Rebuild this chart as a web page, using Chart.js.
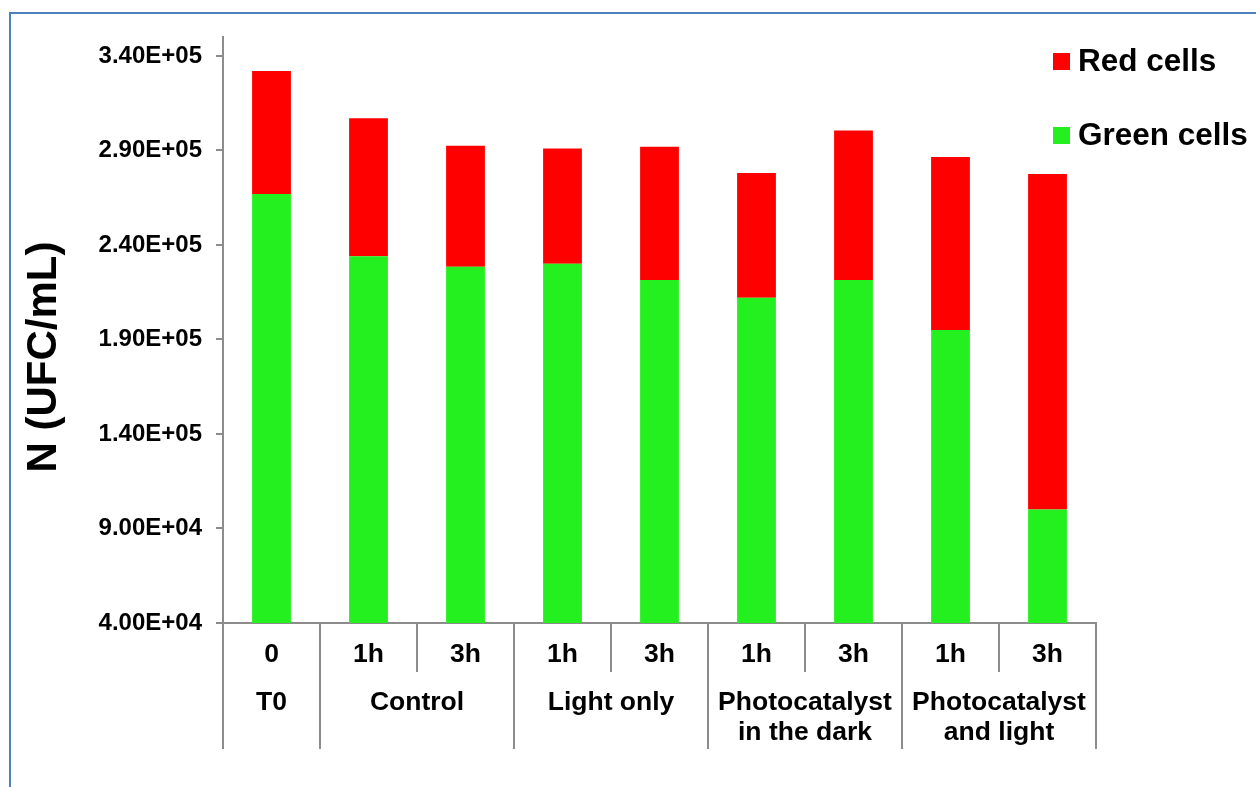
<!DOCTYPE html>
<html>
<head>
<meta charset="utf-8">
<script src="https://cdn.jsdelivr.net/npm/chart.js@4/dist/chart.umd.min.js"></script>
<style>
  html, body { margin: 0; padding: 0; background: #fff; overflow: hidden; }
  #frame { position: absolute; left: 9px; top: 12px; width: 1300px; height: 900px; border: 2px solid #4f81bd; }
  #wrap { position: absolute; left: 0; top: 0; width: 1256px; height: 787px; }
</style>
</head>
<body>
<div id="frame"></div>
<div id="wrap"><canvas id="chart" width="1256" height="787"></canvas></div>
<script>
const subLabels = ['0', '1h', '3h', '1h', '3h', '1h', '3h', '1h', '3h'];
const groupLabels = [['T0'], ['Control'], ['Light only'], ['Photocatalyst', 'in the dark'], ['Photocatalyst', 'and light']];
const groupSizes = [1, 2, 2, 2, 2];
const greenCells = [267000, 234000, 228500, 230000, 221500, 212000, 221500, 195000, 100000];
const redCells = [65000, 73000, 64000, 61000, 70500, 66000, 79000, 91500, 177500];
const yTickValues = [40000, 90000, 140000, 190000, 240000, 290000, 340000];
const yTitle = 'N (UFC/mL)';

const FONT = "'Liberation Sans', Arial, Helvetica, sans-serif";
const grey = '#8c8c8c';

Chart.defaults.color = '#000';
Chart.defaults.font.family = FONT;

function sci(v) {
    let [m, e] = v.toExponential(2).split('e');
    let sign = e[0] === '-' ? '-' : '+';
    let digits = e.replace(/[+-]/, '').padStart(2, '0');
    return m + 'E' + sign + digits;
}

// group row under the x axis, the y title and the legend
const extras = {
    id: 'extras',
    afterDraw(chart) {
        const c = chart.ctx;
        const x = chart.scales.x;
        const area = chart.chartArea;
        const half = (x.getPixelForValue(1) - x.getPixelForValue(0)) / 2;

        c.save();
        c.strokeStyle = grey;
        c.lineWidth = 2;
        c.fillStyle = '#000';
        c.font = 'bold 26.5px ' + FONT;
        c.textAlign = 'center';
        c.textBaseline = 'middle';

        let idx = 0;
        let edges = [x.getPixelForValue(0) - half];
        groupSizes.forEach((n, g) => {
            let left = x.getPixelForValue(idx) - half;
            let right = x.getPixelForValue(idx + n - 1) + half;
            groupLabels[g].forEach((line, i) => {
                c.fillText(line, (left + right) / 2, area.bottom + 80 + i * 30);
            });
            edges.push(right);
            idx += n;
        });
        edges.forEach(px => {
            c.beginPath();
            c.moveTo(px, area.bottom);
            c.lineTo(px, area.bottom + 126);
            c.stroke();
        });

        // y axis title
        c.save();
        c.translate(44, (area.top + area.bottom) / 2 + 27);
        c.rotate(-Math.PI / 2);
        c.font = 'bold 42px ' + FONT;
        c.fillText(yTitle, 0, 0);
        c.restore();

        // legend, top item first
        c.textAlign = 'left';
        c.font = 'bold 31.5px ' + FONT;
        let items = chart.data.datasets.slice().reverse();
        items.forEach((ds, i) => {
            let y = 62 + i * 74;
            c.fillStyle = ds.backgroundColor;
            c.fillRect(1053, y - 9, 17, 17);
            c.fillStyle = '#000';
            c.fillText(ds.label, 1078, y);
        });
        c.restore();
    }
};

new Chart(document.getElementById('chart'), {
    type: 'bar',
    data: {
        labels: subLabels,
        datasets: [
            { label: 'Green cells', data: greenCells, backgroundColor: '#25f01f' },
            { label: 'Red cells', data: redCells, backgroundColor: '#ff0000' }
        ]
    },
    options: {
        responsive: false,
        animation: false,
        events: [],
        layout: { padding: { top: 37, right: 160, left: 15, bottom: 0 } },
        datasets: { bar: { barPercentage: 0.4, categoryPercentage: 1, borderWidth: 0 } },
        plugins: { legend: { display: false }, tooltip: { enabled: false } },
        scales: {
            x: {
                stacked: true,
                grid: { offset: true, drawOnChartArea: false, tickLength: 49, color: grey, lineWidth: 2 },
                border: { color: grey, width: 2 },
                ticks: { autoSkip: false, maxRotation: 0, padding: -33, font: { size: 26.5, weight: 'bold' } },
                afterFit(scale) { scale.height = 164; }
            },
            y: {
                stacked: true,
                min: 40000,
                max: 350000,
                grid: { drawOnChartArea: false, tickLength: 7, color: grey, lineWidth: 2 },
                border: { color: grey, width: 2 },
                ticks: {
                    padding: 14,
                    font: { size: 24, weight: 'bold' },
                    callback: v => sci(v)
                },
                afterBuildTicks(scale) {
                    scale.ticks = yTickValues.map(v => ({ value: v }));
                },
                afterFit(scale) { scale.width = 208; }
            }
        }
    },
    plugins: [extras]
});
</script>
</body>
</html>
